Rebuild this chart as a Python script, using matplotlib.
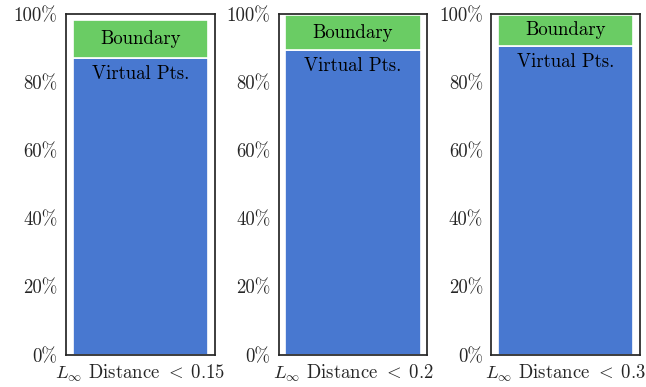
import matplotlib
matplotlib.use("Agg")
import matplotlib.pyplot as plt
from matplotlib.ticker import FixedLocator, FuncFormatter

# Share of points per distance threshold (percent)
thresholds = ["0.15", "0.2", "0.3"]
virtual_pts = [87.1, 89.4, 90.6]
boundary = [11.1, 10.3, 9.2]
yticks = [0, 20, 40, 60, 80, 100]

blue = "#4878d0"
green = "#6acc64"

plt.rcParams["font.family"] = ["cmr10", "DejaVu Serif"]
plt.rcParams["mathtext.fontset"] = "cm"
plt.rcParams["axes.formatter.use_mathtext"] = True

fig, axes = plt.subplots(1, 3, figsize=(6.46, 3.87), dpi=100)
fig.subplots_adjust(left=0.102, right=0.991, top=0.964, bottom=0.083, wspace=0.43)

for ax, thr, v, b in zip(axes, thresholds, virtual_pts, boundary):
    ax.bar([0], [v], width=0.8, color=blue, edgecolor="white", linewidth=1.2)
    ax.bar([0], [b], bottom=[v], width=0.8, color=green, edgecolor="white", linewidth=1.2)
    ax.text(0, v + b / 2, "Boundary", ha="center", va="center", fontsize=13.5)
    ax.text(0, v - 2.0, "Virtual Pts.", ha="center", va="top", fontsize=13.5)
    ax.set_xlim(-0.44, 0.44)
    ax.set_ylim(0, 100)
    ax.yaxis.set_major_locator(FixedLocator(yticks))
    ax.yaxis.set_major_formatter(FuncFormatter(lambda y, p: f"{int(y)}%"))
    ax.set_xticks([0])
    ax.set_xticklabels([r"$L_\infty$ Distance $<\;" + thr + "$"])
    ax.tick_params(length=0, labelsize=13.5, pad=6, colors="#262626")
    ax.tick_params(axis="x", pad=6)
    for s in ax.spines.values():
        s.set_color("#262626")
        s.set_linewidth(1.25)

fig.savefig("out.png", dpi=100)
